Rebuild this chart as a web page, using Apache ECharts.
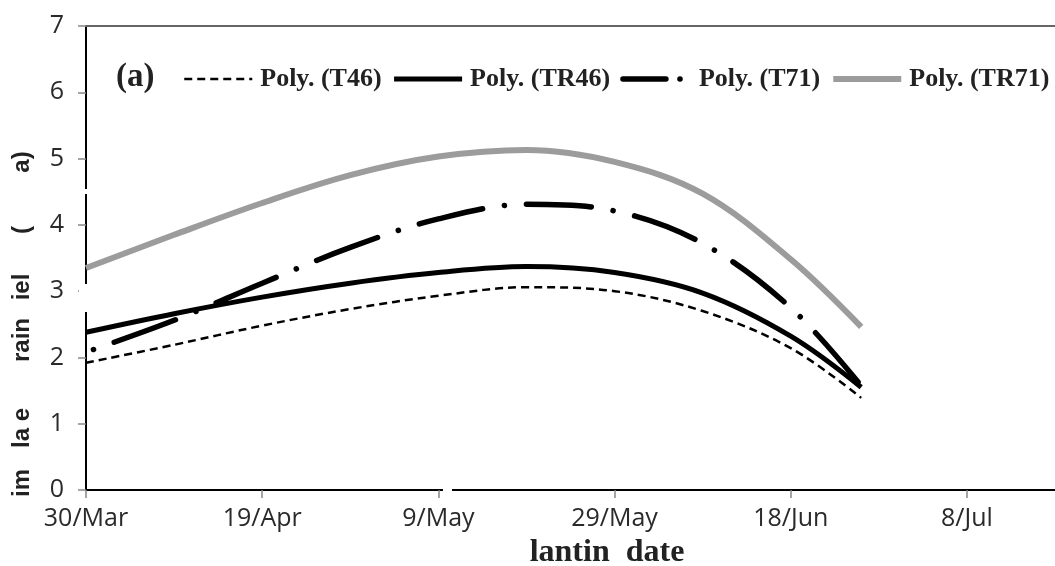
<!DOCTYPE html>
<html>
<head>
<meta charset="utf-8">
<script src="https://cdn.jsdelivr.net/npm/echarts@6/dist/echarts.min.js"></script>
<style>
  html, body { margin: 0; padding: 0; background: #ffffff; }
  #chart { width: 1055px; height: 566px; }
</style>
</head>
<body>
<div id="chart"></div>
<script>
// Planting dates and fitted grain yield (polynomial trend lines)
const startDate = '2001-03-30';
const plantDates = ['2001-03-30', '2001-04-09', '2001-04-19', '2001-04-29', '2001-05-09',
                    '2001-05-19', '2001-05-29', '2001-06-08', '2001-06-18', '2001-06-26'];
const xTickLabels = ['30/Mar', '19/Apr', '9/May', '29/May', '18/Jun', '8/Jul'];
const seriesNames = ['Poly. (T46)', 'Poly. (TR46)', 'Poly. (T71)', 'Poly. (TR71)'];
const yieldT46  = [1.92, 2.19, 2.48, 2.73, 2.93, 3.06, 3.00, 2.70, 2.14, 1.39];
const yieldTR46 = [2.38, 2.66, 2.91, 3.12, 3.28, 3.37, 3.28, 2.97, 2.32, 1.55];
const yieldT71  = [2.08, 2.56, 3.12, 3.66, 4.09, 4.31, 4.21, 3.72, 2.75, 1.57];
const yieldTR71 = [3.35, 3.85, 4.33, 4.75, 5.03, 5.13, 4.95, 4.47, 3.48, 2.46];

const DAY = 86400000;
const dayOffset = d => Math.round((Date.parse(d) - Date.parse(startDate)) / DAY);
const pairs = vals => plantDates.map((d, i) => [dayOffset(d), vals[i]]);

const tickFont = { fontFamily: 'Open Sans', fontSize: 25, color: '#2a2a2a' };
const chart = echarts.init(document.getElementById('chart'), null, { renderer: 'canvas' });

const yTitleParts = [
  { text: 'im', y: 483 }, { text: 'la e', y: 428 }, { text: 'rain', y: 340 },
  { text: 'iel', y: 287 }, { text: '(', y: 230 }, { text: 'a)', y: 162 }
];

const styleT46  = { color: '#000', width: 2.5, type: [8, 5] };
const styleTR46 = { color: '#000', width: 5 };
const styleT71  = { color: '#000', width: 5.5, type: [65, 22, 0.1, 22], dashOffset: 79, cap: 'round' };
const styleTR71 = { color: '#9c9c9c', width: 6 };

chart.setOption({
  animation: false,
  backgroundColor: '#ffffff',
  grid: { left: 86, right: 0, top: 26, bottom: 76, containLabel: false },
  legend: {
    left: 183, top: 66, padding: 0,
    itemWidth: 68, itemHeight: 14, itemGap: 10,
    itemStyle: { opacity: 0, borderWidth: 0 },
    textStyle: { fontFamily: 'Liberation Serif', fontWeight: 'bold', fontSize: 26, color: '#222', padding: [0, 0, 0, 3] },
    data: [
      { name: seriesNames[0], lineStyle: { width: 2.5, type: [8, 5] } },
      { name: seriesNames[1], lineStyle: { width: 5 } },
      { name: seriesNames[2], lineStyle: { width: 5.5, type: [43, 14, 0.1, 40], dashOffset: 0, cap: 'round' } },
      { name: seriesNames[3], lineStyle: { width: 6 } }
    ]
  },
  xAxis: [{
    type: 'value', min: 0, max: 110,
    axisLine: { show: true, lineStyle: { color: '#000', width: 2 } },
    axisTick: { show: true, length: 8, lineStyle: { color: '#888', width: 1.5 }, customValues: [0, 20, 40, 60, 80, 100] },
    axisLabel: Object.assign({ margin: 16, customValues: [0, 20, 40, 60, 80, 100],
      formatter: v => xTickLabels[Math.round(v / 20)] || '' }, tickFont),
    splitLine: { show: false }
  }, {
    type: 'value', min: 0, max: 110, position: 'top',
    axisLine: { show: true, lineStyle: { color: '#666', width: 2 } },
    axisTick: { show: false }, axisLabel: { show: false }, splitLine: { show: false }
  }],
  yAxis: {
    type: 'value', min: 0, max: 7, interval: 1,
    axisLine: { show: true, lineStyle: { color: '#000', width: 2 } },
    axisTick: { show: true, length: 8, lineStyle: { color: '#888', width: 1.5 } },
    axisLabel: Object.assign({ margin: 22 }, tickFont),
    splitLine: { show: false }
  },
  series: [
    { name: seriesNames[0], type: 'line', data: pairs(yieldT46), smooth: 0.35, showSymbol: false, symbol: 'none',
      lineStyle: styleT46, itemStyle: { color: '#000' }, z: 3 },
    { name: seriesNames[1], type: 'line', data: pairs(yieldTR46), smooth: 0.35, showSymbol: false, symbol: 'none',
      lineStyle: styleTR46, itemStyle: { color: '#000' }, z: 3 },
    { name: seriesNames[2], type: 'line', data: pairs(yieldT71), smooth: 0.35, showSymbol: false, symbol: 'none',
      lineStyle: styleT71, itemStyle: { color: '#000' }, z: 3 },
    { name: seriesNames[3], type: 'line', data: pairs(yieldTR71), smooth: 0.35, showSymbol: false, symbol: 'none',
      lineStyle: styleTR71, itemStyle: { color: '#9c9c9c' }, z: 3 }
  ],
  graphic: [
    { type: 'text', left: 116, top: 61, z: 10,
      style: { text: '(a)', font: 'bold 33px "Liberation Serif"', fill: '#222' } },
    { type: 'text', x: 607, y: 553, z: 10,
      style: { text: 'lantin  date', font: 'bold 32px "Liberation Serif"', fill: '#222', textAlign: 'center', textVerticalAlign: 'middle' } },
    ...yTitleParts.map(p => ({
      type: 'text', x: 22, y: p.y, rotation: Math.PI / 2, z: 10,
      style: { text: p.text, font: 'bold 24px "Liberation Sans"', fill: '#222', textAlign: 'center', textVerticalAlign: 'middle' }
    })),
    // breaks in the axis lines
    { type: 'rect', shape: { x: 79, y: 189, width: 11, height: 5 }, style: { fill: '#fff' }, z: 20 },
    { type: 'rect', shape: { x: 79, y: 284, width: 11, height: 28 }, style: { fill: '#fff' }, z: 20 },
    { type: 'rect', shape: { x: 443, y: 486, width: 9, height: 8 }, style: { fill: '#fff' }, z: 20 }
  ]
});
</script>
</body>
</html>
